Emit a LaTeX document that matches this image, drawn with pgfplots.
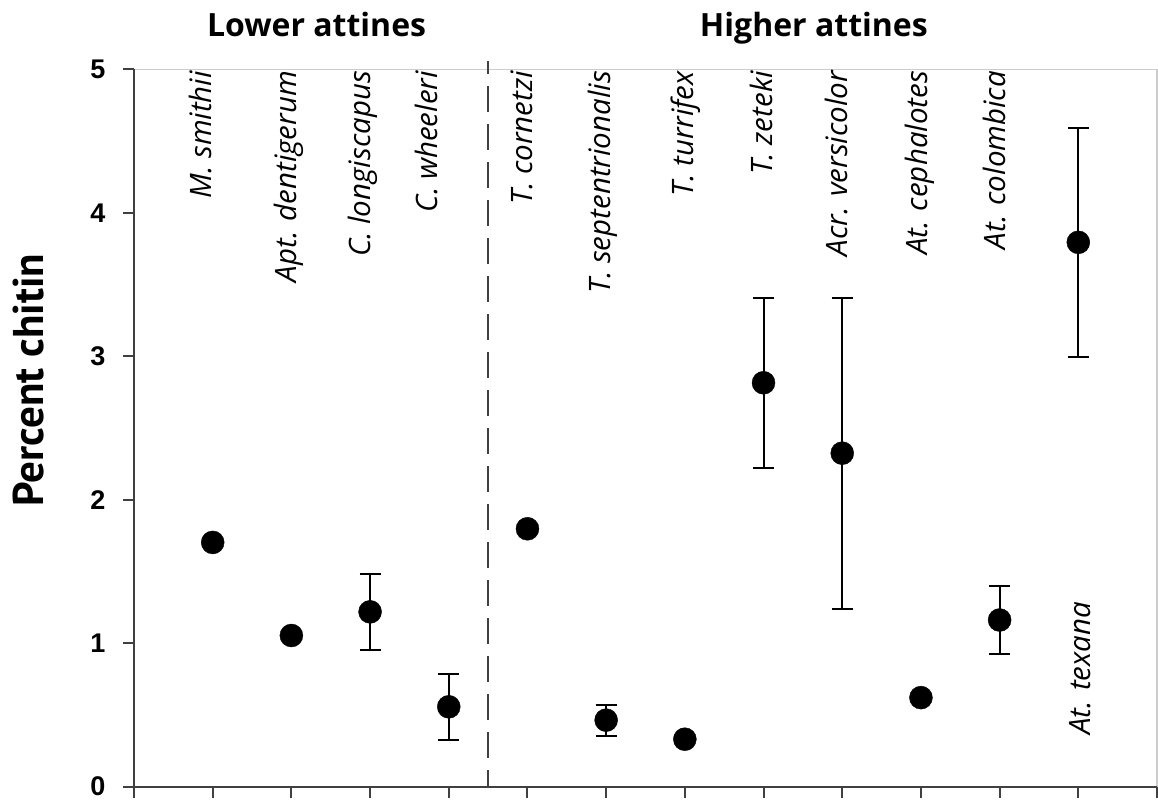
\documentclass[border=0pt]{standalone}
\usepackage{pgfplots}
\pgfplotsset{compat=1.18}
\usepackage{pgfplotstable}
\usepackage{fontspec}
\setmainfont{PT Sans}
\newfontfamily\tickfont{Liberation Sans}
\newfontfamily\headfont{Open Sans}

\definecolor{axisgray}{HTML}{404040}
\definecolor{framegray}{HTML}{CCCCCC}

% species index, mean percent chitin, error (0 = single value)
\pgfplotstableread{
x  y      err
1  1.703  0
2  1.054  0
3  1.219  0.265
4  0.557  0.230
5  1.798  0
6  0.464  0.109
7  0.331  0
8  2.816  0.593
9  2.325  1.084
10 0.621  0
11 1.162  0.235
12 3.795  0.799
}\chitin

\newcommand{\ytl}{\tickfont\bfseries\fontsize{27}{27}\selectfont}

\begin{document}
\begin{tikzpicture}
\begin{axis}[
  scale only axis,
  width=1023pt, height=717.2pt,
  xmin=0, xmax=13, ymin=0, ymax=5,
  axis line style={draw=none},
  tick pos=left,
  xtick={0,...,13}, xticklabels={},
  ytick={0,...,5},
  yticklabels={{\ytl 0},{\ytl 1},{\ytl 2},{\ytl 3},{\ytl 4},{\ytl 5}},
  tick align=outside,
  major tick length=11pt,
  tick style={draw=axisgray, line width=2pt},
  yticklabel style={xshift=-14pt},
  clip=false,
]
  % plot frame: light top/right, dark left/bottom
  \draw[framegray, line width=1.2pt] (rel axis cs:0,1) -- (rel axis cs:1,1) -- (rel axis cs:1,0);
  \draw[axisgray, line width=2pt] (rel axis cs:0,1) -- (rel axis cs:0,0) -- (rel axis cs:1,0);

  % divider between lower and higher attines
  \draw[axisgray, line width=2pt, dash pattern=on 26pt off 12pt, dash phase=13pt]
    (axis cs:4.5,5.058) -- (axis cs:4.5,0);

  \addplot[only marks, mark=*, mark size=11.5pt, black,
    error bars/.cd, y dir=both, y explicit,
    error bar style={line width=2pt, black},
    error mark options={rotate=90, line width=2pt, mark size=10.5pt, black}]
    table[x=x, y=y, y error=err] {\chitin};

  % group headings
  \node[anchor=base, font=\headfont\bfseries\fontsize{32}{32}\selectfont] at (axis cs:2.32,5.228) {Lower attines};
  \node[anchor=base, font=\headfont\bfseries\fontsize{32}{32}\selectfont] at (axis cs:8.64,5.228) {Higher attines};

  % species names
  \begin{scope}[every node/.style={rotate=90, anchor=base east, inner sep=0pt,
      font=\headfont\itshape\fontsize{29.5}{29.5}\selectfont}]
    \node at (axis cs:0.985,4.99) {M. smithii};
    \node at (axis cs:2.069,4.99) {Apt. dentigerum};
    \node at (axis cs:3.008,4.99) {C. longiscapus};
    \node at (axis cs:3.858,4.99) {C. wheeleri};
    \node at (axis cs:5.063,4.99) {T. cornetzi};
    \node at (axis cs:6.053,4.99) {T. septentrionalis};
    \node at (axis cs:7.107,4.99) {T. turrifex};
    \node at (axis cs:8.109,4.99) {T. zeteki};
    \node at (axis cs:9.061,4.99) {Acr. versicolor};
    \node at (axis cs:10.089,4.99) {At. cephalotes};
    \node at (axis cs:11.079,4.99) {At. colombica};
    \node at (axis cs:12.157,1.29) {At. texana};
  \end{scope}
\end{axis}
% y-axis title
\node[rotate=90, anchor=base, inner sep=0pt, font=\bfseries\fontsize{43}{43}\selectfont]
  at ([xshift=-90.7pt, yshift=-310.8pt]current axis.north west) {Percent chitin};
\pgfresetboundingbox
\path[use as bounding box] ([xshift=-134pt, yshift=-13.3pt]current axis.south west)
  rectangle ([xshift=1pt, yshift=69.5pt]current axis.north east);
\end{tikzpicture}
\end{document}
